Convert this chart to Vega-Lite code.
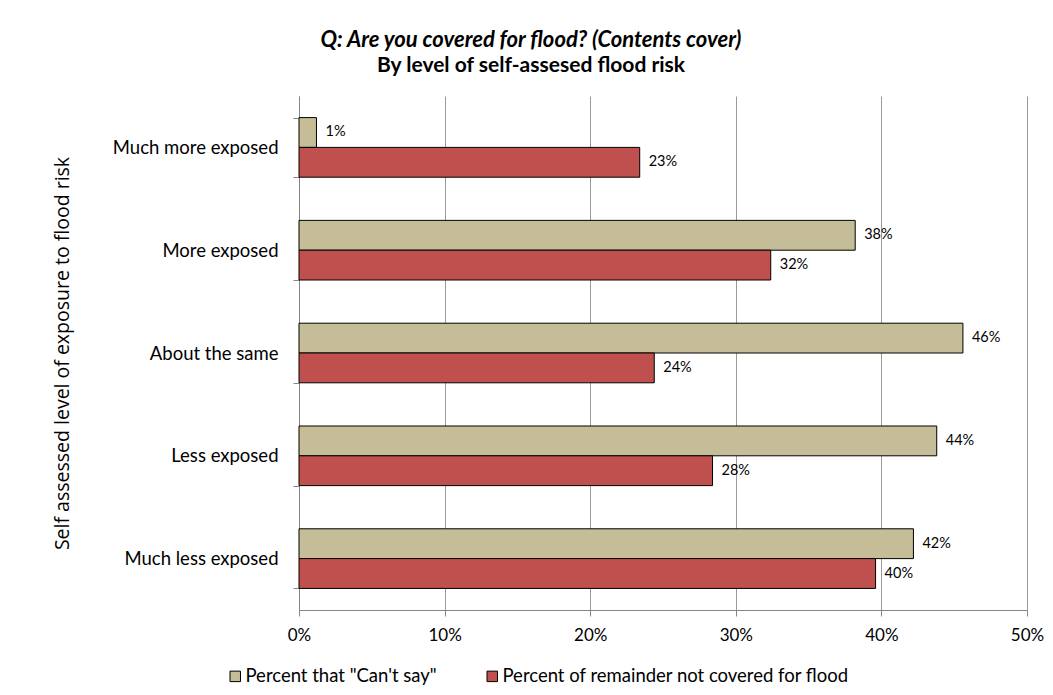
{
  "$schema": "https://vega.github.io/schema/vega-lite/v6.json",
  "width": 728,
  "height": 514,
  "autosize": {"type": "none"},
  "padding": {"left": 299, "top": 96, "right": 26, "bottom": 85},
  "background": "white",
  "title": {
    "text": "Q: Are you covered for flood? (Contents cover)",
    "subtitle": "By level of self-assesed  flood risk",
    "anchor": "middle",
    "frame": "group",
    "dx": -132,
    "offset": 10,
    "font": "Lato",
    "fontSize": 22,
    "fontWeight": "bold",
    "fontStyle": "italic",
    "color": "#000000",
    "subtitleFont": "Lato",
    "subtitleFontSize": 21,
    "subtitleFontWeight": "bold",
    "subtitleColor": "#000000",
    "subtitlePadding": 3
  },
  "data": {
    "values": [
      {"risk": "Much more exposed", "series": "Percent that \"Can't say\"", "pct": 0.012},
      {"risk": "Much more exposed", "series": "Percent of remainder not covered for flood", "pct": 0.234},
      {"risk": "More exposed", "series": "Percent that \"Can't say\"", "pct": 0.382},
      {"risk": "More exposed", "series": "Percent of remainder not covered for flood", "pct": 0.324},
      {"risk": "About the same", "series": "Percent that \"Can't say\"", "pct": 0.456},
      {"risk": "About the same", "series": "Percent of remainder not covered for flood", "pct": 0.244},
      {"risk": "Less exposed", "series": "Percent that \"Can't say\"", "pct": 0.438},
      {"risk": "Less exposed", "series": "Percent of remainder not covered for flood", "pct": 0.284},
      {"risk": "Much less exposed", "series": "Percent that \"Can't say\"", "pct": 0.422},
      {"risk": "Much less exposed", "series": "Percent of remainder not covered for flood", "pct": 0.396}
    ]
  },
  "encoding": {
    "y": {
      "field": "risk",
      "type": "nominal",
      "sort": ["Much more exposed", "More exposed", "About the same", "Less exposed", "Much less exposed"],
      "scale": {"paddingInner": 0.42, "paddingOuter": 0.21},
      "axis": {
        "title": "Self assessed level of exposure to flood risk",
        "titleFont": "Open Sans",
        "titleFontSize": 19.5,
        "titleFontWeight": "normal",
        "titleColor": "#000000",
        "titleAngle": -90,
        "titleX": -237,
        "titleY": 257,
        "titleAlign": "center",
        "titleBaseline": "middle",
        "labelFont": "Lato",
        "labelFontSize": 18.5,
        "labelColor": "#000000",
        "labelPadding": 15,
        "tickBand": "extent",
        "tickSize": 6,
        "tickColor": "#868686",
        "domainColor": "#868686",
        "grid": false
      }
    },
    "yOffset": {
      "field": "series",
      "type": "nominal",
      "sort": ["Percent that \"Can't say\"", "Percent of remainder not covered for flood"]
    },
    "x": {
      "field": "pct",
      "type": "quantitative",
      "scale": {"domain": [0, 0.5], "nice": false},
      "axis": {
        "title": null,
        "format": ".0%",
        "values": [0, 0.1, 0.2, 0.3, 0.4, 0.5],
        "labelFlush": false,
        "labelFont": "Lato",
        "labelFontSize": 17,
        "labelColor": "#000000",
        "labelPadding": 11,
        "tickSize": 6,
        "tickColor": "#868686",
        "domainColor": "#868686",
        "grid": true,
        "gridColor": "#9a9a9a",
        "gridWidth": 1
      }
    }
  },
  "layer": [
    {
      "mark": {"type": "bar", "stroke": "#000000", "strokeWidth": 1},
      "encoding": {
        "color": {
          "field": "series",
          "type": "nominal",
          "sort": ["Percent that \"Can't say\"", "Percent of remainder not covered for flood"],
          "scale": {
            "domain": ["Percent that \"Can't say\"", "Percent of remainder not covered for flood"],
            "range": ["#C4BD97", "#C0504D"]
          },
          "legend": {
            "title": null,
            "orient": "none",
            "direction": "horizontal",
            "legendX": -73,
            "legendY": 571,
            "symbolType": "square",
            "symbolSize": 110,
            "symbolStrokeColor": "#000000",
            "symbolStrokeWidth": 1,
            "symbolOpacity": 1,
            "labelFont": "Lato",
            "labelFontSize": 18.5,
            "labelColor": "#000000",
            "labelOffset": 1,
            "labelLimit": 400,
            "columnPadding": 46
          }
        }
      }
    },
    {
      "mark": {"type": "text", "align": "left", "baseline": "middle", "dx": 9, "font": "Lato", "fontSize": 14.5, "color": "#000000"},
      "encoding": {
        "text": {"field": "pct", "type": "quantitative", "format": ".0%"}
      }
    }
  ],
  "config": {
    "view": {"stroke": null}
  }
}
